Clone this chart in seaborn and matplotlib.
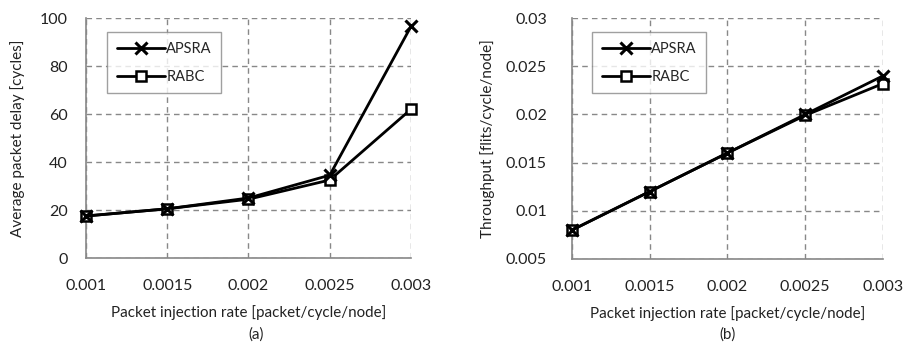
import matplotlib
matplotlib.use("Agg")
import matplotlib.pyplot as plt
import seaborn as sns

# Injection rates (packet/cycle/node)
rates = [0.001, 0.0015, 0.002, 0.0025, 0.003]
rate_labels = ["0.001", "0.0015", "0.002", "0.0025", "0.003"]

# Average packet delay [cycles]
delay_apsra = [17.5, 20.5, 25.0, 34.5, 96.5]
delay_rabc = [17.5, 20.5, 24.5, 32.5, 62.0]

# Throughput [flits/cycle/node]
thr_apsra = [0.0080, 0.0120, 0.0160, 0.0200, 0.0240]
thr_rabc = [0.0080, 0.0120, 0.0160, 0.0199, 0.0232]

delay_ticks = [0, 20, 40, 60, 80, 100]
delay_tick_labels = ["0", "20", "40", "60", "80", "100"]
thr_ticks = [0.005, 0.01, 0.015, 0.02, 0.025, 0.03]
thr_tick_labels = ["0.005", "0.01", "0.015", "0.02", "0.025", "0.03"]

sns.set_theme(style="white")
plt.rcParams["font.family"] = ["Lato", "DejaVu Sans"]

fig = plt.figure(figsize=(9.04, 3.42), dpi=100)
ax1 = fig.add_axes([86 / 904, 1 - 258 / 342, 325 / 904, 240 / 342])
ax2 = fig.add_axes([572 / 904, 1 - 259 / 342, 311 / 904, 241 / 342])

TXT = "#222222"
GRID = "#888888"


def draw(ax, a, b, yticks, ylabels, ylim, ylabel, tag, ypad, ylabpad, tag_dx):
    sns.lineplot(x=rates, y=b, ax=ax, color="black", linewidth=2.0,
                 marker="s", markersize=7.5, markerfacecolor="white",
                 markeredgecolor="black", markeredgewidth=1.8,
                 clip_on=False, zorder=5, label="RABC")
    sns.lineplot(x=rates, y=a, ax=ax, color="black", linewidth=2.0,
                 marker="x", markersize=8, markeredgewidth=2.2,
                 markeredgecolor="black", markerfacecolor="black",
                 clip_on=False, zorder=6, label="APSRA")
    ax.set_xlim(rates[0], rates[-1])
    ax.set_ylim(*ylim)
    ax.set_xticks(rates)
    ax.set_xticklabels(rate_labels)
    ax.set_yticks(yticks)
    ax.set_yticklabels(ylabels)
    ax.tick_params(axis="x", length=0, pad=15, labelsize=11.5, colors=TXT)
    ax.tick_params(axis="y", length=0, pad=ypad, labelsize=11.5, colors=TXT)
    ax.grid(True, color=GRID, linestyle=(0, (4, 3)), linewidth=1.0)
    for s in ["top", "right"]:
        ax.spines[s].set_visible(False)
    for s in ["left", "bottom"]:
        ax.spines[s].set_color(GRID)
        ax.spines[s].set_linewidth(1.2)
    ax.set_xlabel("Packet injection rate [packet/cycle/node]", fontsize=10.9,
                  labelpad=8.5, color=TXT)
    ax.set_ylabel(ylabel, fontsize=11, labelpad=ylabpad, color=TXT)
    pos = ax.get_position()
    fig.text(pos.x0 + pos.width / 2 + tag_dx / 904, 1 - 335 / 342, tag,
             ha="center", va="center", fontsize=10.9, color=TXT)
    handles, labels = ax.get_legend_handles_labels()
    order = [labels.index("APSRA"), labels.index("RABC")]
    leg = ax.legend([handles[i] for i in order], [labels[i] for i in order],
                    loc="upper left", bbox_to_anchor=(0.065, 0.94),
                    frameon=True, fancybox=False, fontsize=10.5,
                    handlelength=3.3, handletextpad=0.1, labelspacing=0.95,
                    borderpad=0.65, borderaxespad=0)
    leg.get_frame().set_edgecolor(GRID)
    leg.get_frame().set_linewidth(1.0)


draw(ax1, delay_apsra, delay_rabc, delay_ticks, delay_tick_labels, (0, 100),
     "Average packet delay [cycles]", "(a)", 13, 11, 8)
draw(ax2, thr_apsra, thr_rabc, thr_ticks, thr_tick_labels, (0.005, 0.03),
     "Throughput [flits/cycle/node]", "(b)", 18, 8, 0)

fig.savefig("out.png", dpi=100, facecolor="white")
